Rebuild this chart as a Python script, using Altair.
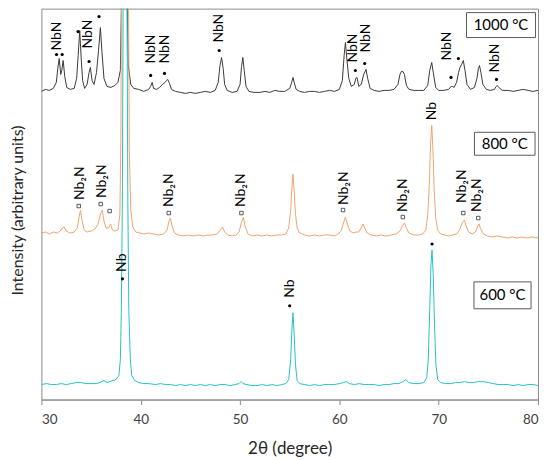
import altair as alt
import pandas as pd

# 2theta (degree), intensity (arbitrary units, stacked as drawn)
T1000 = [
    (30.0, 309), (30.4, 311), (30.8, 310), (31.2, 312), (31.5, 318), (31.65, 332), (31.79, 342),
    (31.95, 326), (32.05, 330), (32.19, 340), (32.35, 324), (32.55, 313), (32.9, 311), (33.3, 312),
    (33.55, 322), (33.7, 345), (33.86, 370), (34.0, 343), (34.15, 320), (34.35, 312), (34.6, 316),
    (34.8, 328), (34.93, 333), (35.1, 320), (35.3, 316), (35.55, 328), (35.75, 350), (35.94, 373),
    (36.1, 348), (36.3, 322), (36.6, 314), (37.0, 313), (37.4, 315), (37.7, 318), (37.95, 330),
    (38.1, 420), (38.25, 700), (38.45, 700), (38.6, 420), (38.75, 335), (39.0, 316), (39.3, 312),
    (39.8, 311), (40.3, 309), (40.8, 311), (41.0, 314), (41.15, 318), (41.3, 312), (41.6, 311),
    (41.9, 313), (42.2, 316), (42.45, 318), (42.6, 320), (42.72, 321), (42.9, 317), (43.1, 311),
    (43.5, 309), (44.0, 308), (44.5, 307), (45.0, 308), (45.5, 307), (46.0, 308), (46.5, 309),
    (47.0, 308), (47.5, 310), (47.8, 318), (47.98, 335), (48.14, 343), (48.3, 332), (48.45, 316),
    (48.7, 310), (49.2, 308), (49.7, 309), (50.0, 316), (50.15, 334), (50.28, 343), (50.42, 330),
    (50.6, 314), (50.9, 309), (51.4, 308), (52.0, 308), (52.5, 309), (53.0, 308), (53.5, 310),
    (54.0, 309), (54.5, 309), (55.0, 312), (55.2, 318), (55.33, 323), (55.45, 318), (55.65, 311),
    (56.0, 309), (56.5, 308), (57.0, 309), (57.5, 309), (58.0, 308), (58.5, 309), (59.0, 310),
    (59.5, 309), (60.0, 311), (60.3, 320), (60.48, 345), (60.61, 358), (60.75, 342), (60.95, 322),
    (61.2, 314), (61.5, 316), (61.65, 322), (61.78, 323), (61.95, 314), (62.2, 316), (62.45, 326),
    (62.68, 331), (62.85, 322), (63.1, 312), (63.5, 310), (64.0, 309), (64.5, 310), (65.0, 310),
    (65.5, 311), (65.9, 316), (66.1, 326), (66.25, 329), (66.4, 329), (66.55, 326), (66.75, 315),
    (67.0, 311), (67.5, 310), (68.0, 310), (68.5, 310), (68.9, 315), (69.1, 330), (69.3, 338),
    (69.45, 328), (69.7, 313), (70.0, 310), (70.5, 310), (71.0, 311), (71.25, 314), (71.37, 314),
    (71.55, 313), (71.8, 318), (72.0, 328), (72.14, 333), (72.3, 336), (72.48, 340), (72.65, 330),
    (72.85, 316), (73.2, 311), (73.6, 313), (73.85, 322), (74.0, 332), (74.11, 335), (74.25, 328),
    (74.45, 316), (74.8, 311), (75.2, 310), (75.6, 311), (75.8, 314), (75.89, 315), (76.05, 313),
    (76.4, 310), (77.0, 310), (77.5, 309), (78.0, 310), (78.5, 311), (79.0, 310), (79.5, 309),
    (80.0, 310),
]

T800 = [
    (30.0, 167), (30.4, 168), (30.8, 166), (31.2, 168), (31.6, 167), (31.9, 169), (32.1, 172),
    (32.29, 173), (32.5, 169), (32.9, 167), (33.3, 168), (33.6, 172), (33.78, 182), (33.93, 190),
    (34.08, 180), (34.3, 170), (34.6, 168), (35.0, 169), (35.4, 171), (35.7, 176), (35.95, 186),
    (36.13, 190), (36.3, 179), (36.5, 172), (36.75, 172), (36.97, 176), (37.15, 170), (37.4, 169),
    (37.7, 170), (37.9, 185), (38.0, 260), (38.08, 450), (38.2, 900), (38.45, 1100), (38.65, 800),
    (38.75, 450), (38.85, 250), (39.0, 190), (39.2, 173), (39.5, 168), (39.9, 167), (40.3, 166),
    (40.8, 167), (41.3, 166), (41.8, 165), (42.3, 166), (42.65, 170), (42.85, 179), (42.99, 182),
    (43.15, 174), (43.4, 167), (43.8, 165), (44.3, 164), (44.8, 165), (45.3, 164), (45.8, 165),
    (46.3, 164), (46.8, 165), (47.3, 165), (47.7, 166), (47.95, 169), (48.24, 173), (48.45, 168),
    (48.8, 165), (49.2, 164), (49.6, 165), (49.9, 168), (50.15, 178), (50.34, 183), (50.5, 174),
    (50.8, 166), (51.2, 164), (51.7, 165), (52.2, 164), (52.7, 165), (53.2, 164), (53.7, 165),
    (54.2, 165), (54.6, 166), (54.9, 172), (55.1, 190), (55.22, 212), (55.33, 226), (55.45, 208),
    (55.58, 186), (55.75, 172), (56.0, 167), (56.5, 165), (57.0, 164), (57.5, 165), (58.0, 164),
    (58.5, 165), (59.0, 165), (59.5, 164), (59.9, 166), (60.2, 170), (60.45, 178), (60.61, 183),
    (60.8, 176), (61.05, 169), (61.4, 167), (61.7, 168), (61.95, 168), (62.2, 172), (62.38, 176),
    (62.55, 172), (62.8, 167), (63.2, 165), (63.7, 164), (64.2, 165), (64.7, 164), (65.2, 165),
    (65.7, 166), (66.1, 169), (66.35, 174), (66.56, 177), (66.75, 172), (67.0, 167), (67.5, 165),
    (68.0, 165), (68.4, 166), (68.7, 170), (68.9, 185), (69.05, 215), (69.18, 255), (69.3, 275),
    (69.42, 250), (69.55, 210), (69.7, 182), (69.9, 170), (70.2, 166), (70.6, 165), (71.0, 164),
    (71.4, 165), (71.8, 166), (72.1, 170), (72.35, 177), (72.58, 180), (72.8, 173), (73.0, 168),
    (73.4, 166), (73.7, 168), (73.9, 173), (74.05, 176), (74.25, 171), (74.5, 166), (74.9, 164),
    (75.4, 163), (75.9, 164), (76.4, 163), (76.9, 162), (77.4, 163), (77.9, 162), (78.4, 163),
    (78.9, 162), (79.4, 163), (80.0, 162),
]

T600 = [
    (30.0, 15), (30.5, 16), (31.0, 15), (31.5, 15), (32.0, 16), (32.5, 15), (33.0, 16), (33.5, 17),
    (34.0, 17), (34.5, 16), (35.0, 16), (35.5, 16), (35.9, 17), (36.3, 19), (36.6, 17), (36.9, 18),
    (37.2, 19), (37.5, 20), (37.8, 24), (37.95, 40), (38.05, 90), (38.15, 200), (38.25, 450),
    (38.45, 1200), (38.6, 450), (38.7, 200), (38.8, 90), (38.95, 40), (39.1, 24), (39.4, 19),
    (39.8, 17), (40.3, 16), (40.8, 16), (41.5, 15), (42.0, 16), (42.5, 15), (43.0, 15), (43.5, 14),
    (44.0, 15), (44.5, 14), (45.0, 15), (45.5, 14), (46.0, 15), (46.5, 14), (47.0, 15), (47.5, 14),
    (48.0, 15), (48.5, 15), (49.0, 14), (49.5, 15), (49.9, 16), (50.1, 18), (50.3, 16), (50.7, 15),
    (51.2, 14), (51.7, 14), (52.2, 15), (52.7, 14), (53.2, 15), (53.7, 14), (54.2, 15), (54.6, 16),
    (54.9, 20), (55.1, 40), (55.22, 70), (55.33, 87), (55.45, 65), (55.58, 35), (55.75, 19),
    (56.0, 16), (56.5, 15), (57.0, 14), (57.5, 15), (58.0, 14), (58.5, 15), (59.0, 15), (59.5, 15),
    (60.0, 16), (60.4, 17), (60.7, 18), (61.0, 16), (61.5, 15), (62.0, 16), (62.5, 15), (63.0, 15),
    (63.5, 15), (64.0, 14), (64.5, 15), (65.0, 15), (65.5, 16), (66.0, 16), (66.4, 18), (66.7, 20),
    (67.0, 17), (67.5, 16), (68.0, 16), (68.5, 17), (68.8, 22), (68.95, 40), (69.1, 90),
    (69.22, 135), (69.33, 150), (69.45, 125), (69.58, 75), (69.72, 35), (69.9, 20), (70.2, 17),
    (70.7, 16), (71.2, 16), (71.7, 17), (72.2, 17), (72.6, 18), (73.0, 17), (73.5, 17), (74.0, 18),
    (74.5, 18), (75.0, 17), (75.5, 16), (76.0, 15), (76.5, 15), (77.0, 15), (77.5, 14), (78.0, 15),
    (78.5, 14), (79.0, 15), (79.5, 15), (80.0, 14),
]

SERIES = ["1000 °C", "800 °C", "600 °C"]
COLORS = ["#3a3a3a", "#f2a46e", "#26c1c4"]

# NbN (dots) on the 1000 °C pattern
NBN_DOT_X = [31.52, 32.09, 33.69, 34.8, 35.8, 41.0, 42.39, 47.9, 61.61, 62.55, 71.24, 71.98, 75.82]
NBN_DOT_Y = [346, 346, 369, 339, 384, 325, 327, 350, 330, 337, 323, 342, 321]
NBN_LAB_X = [31.55, 34.7, 41.0, 42.4, 47.86, 61.34, 62.68, 70.8, 75.66]
NBN_LAB_Y = [350, 352, 337, 337, 358, 338, 348, 340, 328]

# Nb2N (open squares) on the 800 °C pattern
NB2N_SQ_X = [33.76, 35.97, 36.87, 42.82, 50.14, 60.37, 66.39, 72.48, 73.98]
NB2N_SQ_Y = [194, 196, 189, 187, 187, 190, 183, 187, 182]
NB2N_LAB_X = [33.86, 36.1, 42.82, 50.14, 60.44, 66.39, 72.3, 73.88]
NB2N_LAB_Y = [200, 202, 193, 193, 195, 188, 197, 188]

# Nb (dots) on the 600 °C pattern
NB_DOT_X = [38.16, 55.0, 69.33]
NB_DOT_Y = [121, 94, 156]
NB_LAB_X = [38.16, 55.0, 69.3]
NB_LAB_Y = [128, 102, 280]

# temperature boxes
BOX_TEXT = ["1000 °C", "800 °C", "600 °C"]
BOX_X1 = [72.8, 73.6, 73.55]
BOX_X2 = [79.75, 79.7, 79.3]
BOX_Y1 = [363, 245, 91]
BOX_Y2 = [388, 268, 118]

rows = []
for name, trace in zip(SERIES, [T1000, T800, T600]):
    for i, (x, y) in enumerate(trace):
        rows.append({"x": x, "y": y, "s": name, "o": i})
lines_df = pd.DataFrame(rows)

FONT = "Lato"
xs = alt.Scale(domain=[30, 80], nice=False, zero=False)
ys = alt.Scale(domain=[0, 392], nice=False, zero=False)

X = alt.X("x:Q", scale=xs, axis=alt.Axis(
    title="2θ (degree)", values=[30, 40, 50, 60, 70, 80], grid=False,
    tickSize=5, tickColor="#8c8c8c", domainColor="#8c8c8c", labelColor="#404040",
    labelFontSize=13.5, labelPadding=8, labelFont=FONT, titleFont=FONT, titleFontSize=17,
    titleFontWeight="normal", titleColor="#262626", titlePadding=15, format="d"))
Y = alt.Y("y:Q", scale=ys, axis=alt.Axis(
    title="Intensity (arbitrary units)", labels=False, ticks=False, domain=False, grid=False,
    titleFont=FONT, titleFontSize=16, titleFontWeight="normal", titleColor="#262626",
    titlePadding=16, titleY=202))

lines = alt.Chart(lines_df).mark_line(strokeWidth=1, clip=True).encode(
    x=X, y=Y,
    color=alt.Color("s:N", scale=alt.Scale(domain=SERIES, range=COLORS), legend=None),
    order="o:Q",
)
line_layers = [lines.transform_filter(alt.datum.s == s) for s in SERIES]

dots_df = pd.DataFrame({"x": NBN_DOT_X + NB_DOT_X, "y": NBN_DOT_Y + NB_DOT_Y})
dots = alt.Chart(dots_df).mark_point(filled=True, size=10, color="black", opacity=1, shape="circle").encode(
    x=alt.X("x:Q", scale=xs), y=alt.Y("y:Q", scale=ys))

sq_df = pd.DataFrame({"x": NB2N_SQ_X, "y": NB2N_SQ_Y})
squares = alt.Chart(sq_df).mark_point(filled=False, size=12, shape="square", color="#333333",
                                      strokeWidth=0.8, opacity=1).encode(
    x=alt.X("x:Q", scale=xs), y=alt.Y("y:Q", scale=ys))

lab_df = pd.DataFrame({
    "x": NBN_LAB_X + NB2N_LAB_X + NB_LAB_X,
    "y": NBN_LAB_Y + NB2N_LAB_Y + NB_LAB_Y,
    "t": ["NbN"] * len(NBN_LAB_X) + ["Nb₂N"] * len(NB2N_LAB_X) + ["Nb"] * len(NB_LAB_X),
})
labels = alt.Chart(lab_df).mark_text(angle=270, align="left", baseline="middle", fontSize=14,
                                     font=FONT, color="black").encode(
    x=alt.X("x:Q", scale=xs), y=alt.Y("y:Q", scale=ys), text="t:N")

box_df = pd.DataFrame({"t": BOX_TEXT, "x1": BOX_X1, "x2": BOX_X2, "y1": BOX_Y1, "y2": BOX_Y2})
box_df["xc"] = (box_df["x1"] + box_df["x2"]) / 2
box_df["yc"] = (box_df["y1"] + box_df["y2"]) / 2
boxes = alt.Chart(box_df).mark_rect(fill="white", stroke="#5a5a5a", strokeWidth=1).encode(
    x=alt.X("x1:Q", scale=xs), x2="x2:Q", y=alt.Y("y1:Q", scale=ys), y2="y2:Q")
box_text = alt.Chart(box_df).mark_text(fontSize=15, font=FONT, color="black",
                                       align="center", baseline="middle").encode(
    x=alt.X("xc:Q", scale=xs), y=alt.Y("yc:Q", scale=ys), text="t:N")

chart = alt.layer(*line_layers, dots, squares, labels, boxes, box_text).properties(
    width=498, height=392,
    autosize=alt.AutoSizeParams(type="none"),
    padding={"left": 33.5, "top": 0, "right": 4, "bottom": 60},
    background="white",
).configure_view(stroke="#8c8c8c", strokeWidth=1)

chart.save("out.html", embed_options={"renderer": "svg", "actions": False})
